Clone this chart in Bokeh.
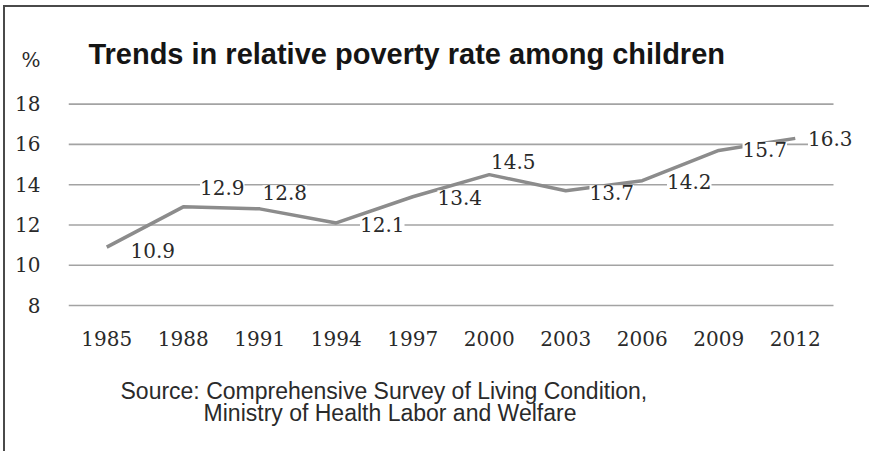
from bokeh.plotting import figure
from bokeh.models import ColumnDataSource, Range1d, LabelSet, Label, FixedTicker, Title
from bokeh.core.properties import value
from bokeh.embed import file_html
from bokeh.resources import INLINE

years = [1985, 1988, 1991, 1994, 1997, 2000, 2003, 2006, 2009, 2012]
rates = [10.9, 12.9, 12.8, 12.1, 13.4, 14.5, 13.7, 14.2, 15.7, 16.3]
y_ticks = [8, 10, 12, 14, 16, 18]

title_text = "Trends in relative poverty rate among children"
unit_text = "%"
source_line1 = "Source: Comprehensive  Survey of Living Condition,"
source_line2 = "Ministry of Health Labor and Welfare"

# label placement (styling): screen offsets for each data label
lab_dx = [46, 39, 25, 46, 47, 24, 46, 47, 46, 35]
lab_dy = [-3, 19, 16, -2, -1, 13, -2, -1, 1, 0]

half_step = (years[1] - years[0]) / 2
x_lo = years[0] - half_step
x_hi = years[-1] + half_step
unit_pos = 20.2  # tick position used for the "%" unit marker
indent = "\u00a0" * 13  # visual indent of the second source line

src = ColumnDataSource(dict(x=years, y=rates, lab=[f"{v:.1f}" for v in rates],
                            dx=lab_dx, dy=lab_dy))
grid_src = ColumnDataSource(dict(x0=[x_lo] * len(y_ticks), x1=[x_hi] * len(y_ticks), y=y_ticks))

p = figure(width=866, height=446, x_range=Range1d(x_lo, 2014.99), y_range=Range1d(7.901, 22.80),
           output_backend="svg", toolbar_location=None,
           min_border_left=63, min_border_right=0, min_border_top=0, min_border_bottom=145)
p.outline_line_color = None
p.background_fill_color = "white"
p.border_fill_color = "white"
p.grid.grid_line_color = None

p.segment(x0="x0", x1="x1", y0="y", y1="y", source=grid_src, line_color="#a3a3a3", line_width=1.6)

p.xaxis.ticker = FixedTicker(ticks=years)
p.yaxis.ticker = FixedTicker(ticks=y_ticks + [unit_pos])
p.yaxis.major_label_overrides = {unit_pos: unit_text}

for ax in (p.xaxis, p.yaxis):
    ax.axis_line_color = None
    ax.major_tick_line_color = None
    ax.minor_tick_line_color = None
    ax.major_label_text_font = "DejaVu Serif"
    ax.major_label_text_font_size = "20px"
    ax.major_label_text_color = "#2a2a2a"
p.yaxis.major_label_standoff = 22
p.xaxis.major_label_standoff = 17

p.line("x", "y", source=src, line_color="#8c8c8c", line_width=3.5)

labels = LabelSet(x="x", y="y", text="lab", source=src, x_offset="dx", y_offset="dy",
                  text_font=value("DejaVu Serif"), text_font_size="20px", text_color="#2a2a2a",
                  text_align="center", text_baseline="middle",
                  background_fill_color="white", background_fill_alpha=1.0)
p.add_layout(labels)

p.add_layout(Label(x=1984.28, y=20.48, text=title_text,
                   text_font="Liberation Sans", text_font_style="bold",
                   text_font_size="29px", text_color="#151515", text_baseline="middle"))

p.add_layout(Title(text=source_line1 + "\n" + indent + source_line2, align="left", offset=52,
                   standoff=54, text_line_height=0.88,
                   text_font="Liberation Sans", text_font_style="normal",
                   text_font_size="23px", text_color="#2a2a2a"), "below")

p.styles = {"border-left": "2px solid #4a4a4a", "border-top": "2px solid #4a4a4a",
            "margin-left": "3px", "margin-top": "5px"}

open("out.html", "w").write(file_html(p, INLINE))
